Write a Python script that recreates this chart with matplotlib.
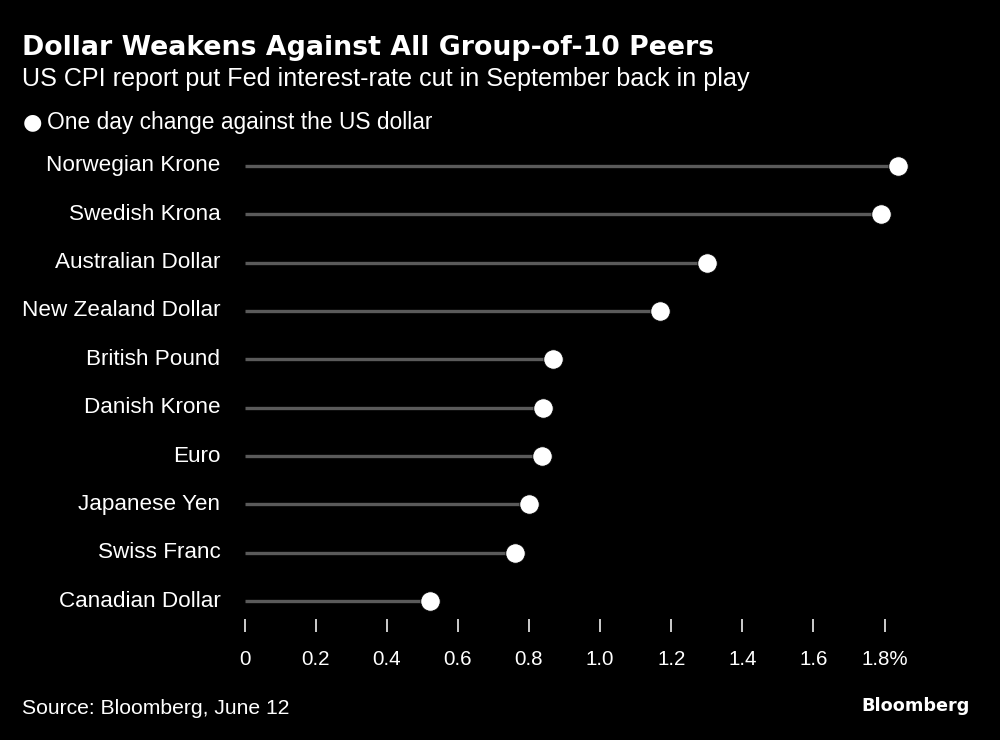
import matplotlib
matplotlib.use("Agg")
import matplotlib.pyplot as plt
from matplotlib import font_manager as fm

categories = ["Norwegian Krone", "Swedish Krona", "Australian Dollar", "New Zealand Dollar",
              "British Pound", "Danish Krone", "Euro", "Japanese Yen", "Swiss Franc",
              "Canadian Dollar"]
values = [1.837, 1.789, 1.300, 1.169, 0.868, 0.840, 0.836, 0.800, 0.761, 0.523]
xticks = [0, 0.2, 0.4, 0.6, 0.8, 1.0, 1.2, 1.4, 1.6, 1.8]
xticklabels = ["0", "0.2", "0.4", "0.6", "0.8", "1.0", "1.2", "1.4", "1.6", "1.8%"]

title = "Dollar Weakens Against All Group-of-10 Peers"
subtitle = "US CPI report put Fed interest-rate cut in September back in play"
legend_label = "One day change against the US dollar"
source = "Source: Bloomberg, June 12"
brand = "Bloomberg"

names = {f.name for f in fm.fontManager.ttflist}
FONT = "Liberation Sans Narrow" if "Liberation Sans Narrow" in names else "Liberation Sans"
BOLD = "DejaVu Sans"

W, H = 1000, 740
fig = plt.figure(figsize=(W / 100, H / 100), dpi=100, facecolor="black")

def px(x, y):
    return x / W, 1 - y / H

# axes: x=0 at 244.5px, 1.8 at 884.6px ; top 142px, bottom 619px
ppu = (884.6 - 244.5) / 1.8
left = 244.5
right = left + 1.9 * ppu
top, bottom = 142, 619
ax = fig.add_axes([left / W, 1 - bottom / H, (right - left) / W, (bottom - top) / H])
ax.set_facecolor("black")
row_sp = (601 - 166) / 9
ax.set_xlim(0, 1.9)
ax.set_ylim(9 + (bottom - 601) / row_sp, -(166 - top) / row_sp)

ys = list(range(len(categories)))
ax.hlines(ys, 0, values, color="#5a5a5a", lw=2.4, zorder=1)
ax.plot(values, ys, "o", color="white", ms=14, mec="black", mew=0.6, zorder=3)

for s in ax.spines.values():
    s.set_visible(False)
ax.set_yticks([])
ax.set_xticks(xticks)
ax.set_xticklabels(xticklabels, family=FONT, fontsize=14.8, color="white")
ax.tick_params(axis="x", colors="#dddddd", length=9, width=1.3, pad=13, labelcolor="white")

for y, c in zip(ys, categories):
    ax.text(-24 / ppu, y, c, ha="right", va="center", family=FONT, fontsize=16.2,
            color="white")

fig.canvas.draw()
rend = fig.canvas.get_renderer()

def fit_text(x, y, s, target_w, **kw):
    t = fig.text(*px(x, y), s, **kw)
    for _ in range(3):
        bb = t.get_window_extent(rend)
        t.set_fontsize(t.get_fontsize() * target_w / bb.width)
    return t

fit_text(22, 48, title, 692, family=BOLD, weight="bold", fontsize=21, color="white",
         va="center", ha="left")
fit_text(22, 79, subtitle, 729, family=FONT, fontsize=16, color="white",
         va="center", ha="left")
fig.text(*px(32, 122), "\u25cf", family="DejaVu Sans", fontsize=16, color="white",
         va="center", ha="center")
fit_text(47, 122, legend_label, 386, family=FONT, fontsize=15, color="white",
         va="center", ha="left")
fit_text(22, 709, source, 267, family=FONT, fontsize=14, color="white",
         va="center", ha="left")
bt = fit_text(861, 706, brand, 108, family=BOLD, weight="bold", fontsize=13,
              color="white", va="center", ha="left")

fig.savefig("out.png", dpi=100, facecolor="black")
